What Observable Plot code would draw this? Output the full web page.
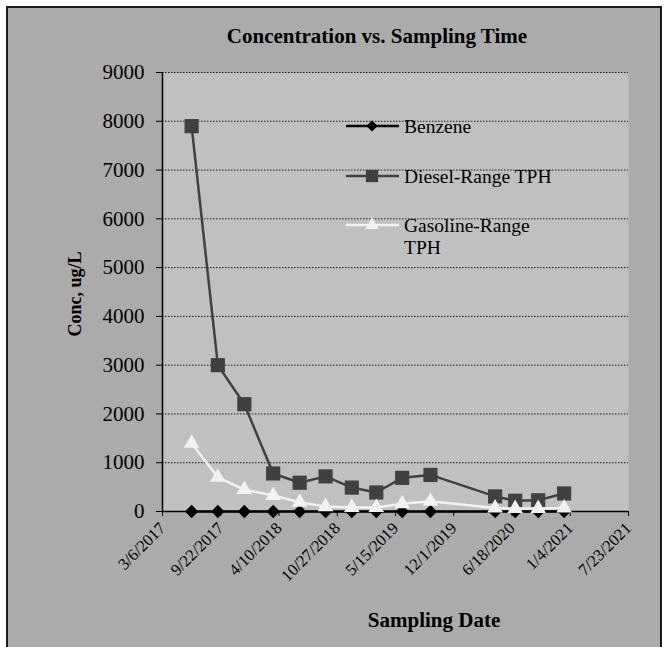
<!DOCTYPE html>
<html>
<head>
<meta charset="utf-8">
<script src="https://cdn.jsdelivr.net/npm/d3@7"></script>
<script src="https://cdn.jsdelivr.net/npm/@observablehq/plot@0.6"></script>
<style>
  html, body { margin: 0; padding: 0; background: #ffffff; }
  #wrap { position: relative; width: 664px; height: 647px; overflow: hidden; font-family: "Liberation Serif", "Times New Roman", serif; }
  #bg { position: absolute; left: 6px; top: 6px; width: 656px; height: 700px; background: #ababab; border: 2px solid #1a1a1a; box-sizing: border-box; }
  #chart { position: absolute; left: 0; top: 0; }
  .lbl { position: absolute; font-weight: bold; color: #000; white-space: nowrap; }
  #title { left: 377px; top: 44px; font-size: 21px; transform: translate(-50%, -80%); }
  #xlab { left: 434px; top: 628px; font-size: 21px; transform: translate(-50%, -80%); }
  #ylab { left: 75px; top: 294px; font-size: 18px; transform: translate(-50%, -50%) rotate(-90deg); }
  #legend { position: absolute; left: 0; top: 0; }
</style>
</head>
<body>
<div id="wrap">
  <div id="bg"></div>
  <div id="chart"></div>
  <div class="lbl" id="title">Concentration vs. Sampling Time</div>
  <div class="lbl" id="xlab">Sampling Date</div>
  <div class="lbl" id="ylab">Conc, ug/L</div>
  <svg id="legend" width="664" height="647"></svg>
</div>
<script>
// ---- data ----
const sampleDates = ["2017-06-14","2017-09-12","2017-12-12","2018-03-21","2018-06-20","2018-09-17","2018-12-16","2019-03-10","2019-06-07","2019-09-12","2020-04-21","2020-06-29","2020-09-16","2020-12-14"];
const benzene  = [0,0,0,0,0,0,0,0,0,0,0,0,0,0];
const diesel   = [7900,3000,2200,780,590,720,490,390,690,750,310,220,230,370];
const gasoline = [1400,700,450,330,190,100,80,80,160,210,70,60,60,70];
const seriesNames = ["Benzene","Diesel-Range TPH","Gasoline-Range TPH"];
const xTickLabels = ["3/6/2017","9/22/2017","4/10/2018","10/27/2018","5/15/2019","12/1/2019","6/18/2020","1/4/2021","7/23/2021"];
const yTicks = [0,1000,2000,3000,4000,5000,6000,7000,8000,9000];

// ---- build ----
const parseISO = d3.utcParse("%Y-%m-%d");
const parseMDY = d3.utcParse("%m/%d/%Y");
const tickDates = xTickLabels.map(parseMDY);
const labelByTime = new Map(tickDates.map((d, i) => [+d, xTickLabels[i]]));
const dates = sampleDates.map(parseISO);
const rows = (vals, name) => vals.map((v, i) => ({date: dates[i], value: v, series: name}));
const benzRows = rows(benzene, seriesNames[0]);
const dieRows = rows(diesel, seriesNames[1]);
const gasRows = rows(gasoline, seriesNames[2]);

const cBenz = "#000000", cDie = "#404040", cGas = "#f2f2f2";

const chart = Plot.plot({
  width: 664,
  height: 647,
  marginLeft: 162,
  marginRight: 36,
  marginTop: 72,
  marginBottom: 136,
  style: {background: "transparent", fontFamily: "Liberation Serif, Times New Roman, serif", color: "#000", overflow: "visible"},
  x: {type: "utc", domain: [tickDates[0], tickDates[tickDates.length - 1]]},
  y: {domain: [0, 9000]},
  marks: [
    Plot.frame({fill: "#c0c0c0", stroke: null}),
    Plot.ruleY(yTicks.filter(d => d > 0), {stroke: "#1a1a1a", strokeWidth: 1, strokeDasharray: "1.5,1.5"}),
    Plot.axisY({ticks: yTicks, tickFormat: d3.format("d"), tickSize: 6, tickPadding: 12, fontSize: 21, label: null, stroke: "#000"}),
    Plot.axisX({ticks: tickDates, tickFormat: d => labelByTime.get(+d), tickSize: 5, tickPadding: 9, tickRotate: -45, fontSize: 16.5, label: null, stroke: "#000"}),
    Plot.ruleX([tickDates[0]], {stroke: "#000", strokeWidth: 1.5}),
    Plot.ruleY([0], {stroke: "#000", strokeWidth: 1.5}),
    Plot.line(benzRows, {x: "date", y: "value", stroke: cBenz, strokeWidth: 2.5}),
    Plot.dot(benzRows, {x: "date", y: "value", symbol: "diamond2", r: 6, fill: cBenz, stroke: null}),
    Plot.line(dieRows, {x: "date", y: "value", stroke: cDie, strokeWidth: 2.5}),
    Plot.dot(dieRows, {x: "date", y: "value", symbol: "square", r: 8, fill: cDie, stroke: null}),
    Plot.line(gasRows, {x: "date", y: "value", stroke: cGas, strokeWidth: 2.5}),
    Plot.dot(gasRows, {x: "date", y: "value", symbol: "triangle", r: 5.8, fill: cGas, stroke: null})
  ]
});
document.getElementById("chart").appendChild(chart);

// ---- legend ----
const leg = d3.select("#legend");
const items = [
  {name: ["Benzene"], color: cBenz, sym: d3.symbolDiamond2, size: 80, y: 126},
  {name: ["Diesel-Range TPH"], color: cDie, sym: d3.symbolSquare, size: 150, y: 176},
  {name: ["Gasoline-Range", "TPH"], color: cGas, sym: d3.symbolTriangle, size: 80, y: 225}
];
items.forEach(it => {
  const g = leg.append("g");
  g.append("line").attr("x1", 346).attr("x2", 399).attr("y1", it.y).attr("y2", it.y)
    .attr("stroke", it.color).attr("stroke-width", 2.5);
  g.append("path").attr("d", d3.symbol(it.sym, it.size)()).attr("transform", `translate(372,${it.y})`).attr("fill", it.color);
  const t = g.append("text").attr("x", 404).attr("y", it.y)
    .attr("font-family", "Liberation Serif, Times New Roman, serif").attr("font-size", 19.5).attr("fill", "#000");
  it.name.forEach((n, i) => t.append("tspan").attr("x", 404).attr("dy", i === 0 ? "0.35em" : "1.15em").text(n));
});
</script>
</body>
</html>
